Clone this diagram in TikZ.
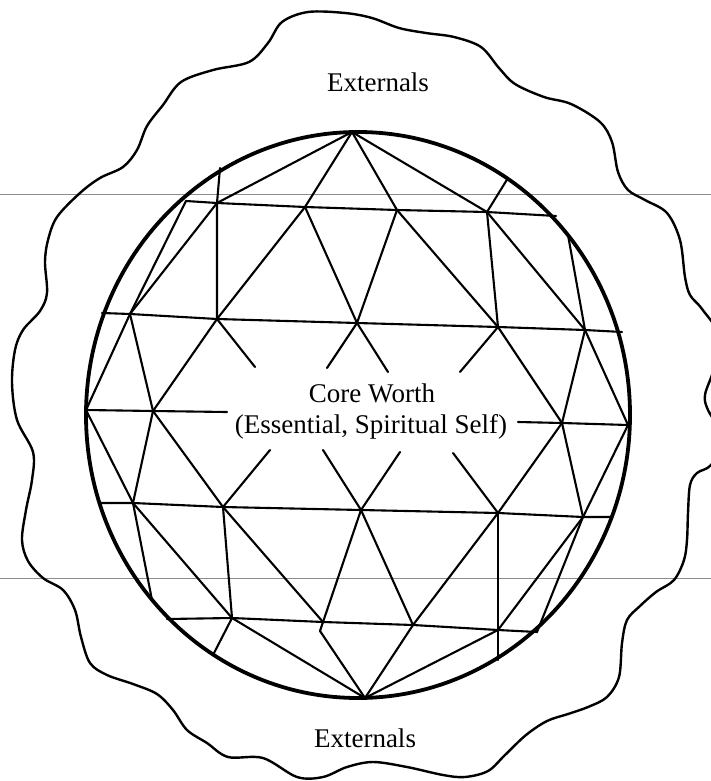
\documentclass[tikz,border=0pt]{standalone}
\usepackage{fontspec}
\setmainfont{Liberation Serif}
\begin{document}
\begin{tikzpicture}[x=1pt,y=-1pt,
  gridline/.style={line width=2.1pt, line cap=round, line join=round},
  rim/.style={line width=3.8pt},
  blob/.style={line width=2.4pt, line join=round},
  scanline/.style={line width=1pt, black!45},
  lbl/.style={font=\fontsize{27}{31}\selectfont, inner sep=0pt, anchor=base}]
\useasboundingbox (0,0) rectangle (711,781);
\fill[white] (0,0) rectangle (711,781);

% scan lines
\coordinate (g1l) at (0,194); \coordinate (g1r) at (711,194);
\coordinate (g2l) at (0,578); \coordinate (g2r) at (711,578);
\draw[scanline] (g1l) -- (g1r);
\draw[scanline] (g2l) -- (g2r);

% outer wavy boundary
\begin{scope}
\clip (0,0) rectangle (711,781);
\draw[blob] plot[smooth cycle, tension=0.55] coordinates {
(308,12) (345,13) (372,18) (399,28) (426,33) (454,37) (481,47) (499,68) (515,84)
(544,97) (571,104) (600,122) (612,142) (618,172) (628,190) (645,200) (667,213)
(680,240) (685,277) (690,295) (702,309) (722,340) (713,372) (705,395) (708,410)
(724,440) (711,465) (697,473) (690,485) (688,513) (687,540) (684,560) (674,580)
(656,592) (640,606) (627,620) (622,643) (619,677) (607,697) (588,707) (568,714)
(547,721) (526,735) (505,755) (488,771) (465,777) (443,775) (407,767) (373,762)
(347,767) (323,777) (297,777) (263,758) (228,757) (207,743) (187,730) (173,710)
(157,694) (133,684) (107,675) (90,663) (81,637) (75,610) (63,590) (43,578)
(28,561) (22,540) (26,510) (32,480) (33,452) (17,420) (12,383) (15,350) (23,330)
(40,311) (47,293) (45,262) (48,240) (57,217) (80,193) (100,178) (123,167)
(137,150) (147,126) (163,105) (181,82) (213,70) (249,62) (268,43) (282,22)};
\end{scope}

% vertices
\coordinate (T) at (352,132);
\coordinate (Bt) at (365,698);
\coordinate (L) at (86,410);
\coordinate (R) at (628,425);
\coordinate (E1L) at (186,201); \coordinate (B11) at (217,203); \coordinate (B12) at (305,207);
\coordinate (B13) at (397,210); \coordinate (B14) at (487,212); \coordinate (E1R) at (556,216);
\coordinate (Q1) at (220,168); \coordinate (Q2) at (508,178); \coordinate (Q3) at (568,235);
\coordinate (E2L) at (102,313); \coordinate (B21) at (130,314); \coordinate (B22) at (217,319);
\coordinate (B23) at (357,323); \coordinate (B24) at (498,327); \coordinate (B25) at (585,330);
\coordinate (E2R) at (622,332);
\coordinate (S22) at (255,367); \coordinate (S23a) at (327,368); \coordinate (S23b) at (388,372);
\coordinate (S24) at (460,372);
\coordinate (B31) at (153,411); \coordinate (E3a) at (227,412);
\coordinate (E3b) at (518,422); \coordinate (B3R) at (562,423);
\coordinate (E4L) at (100,503); \coordinate (B41) at (133,503); \coordinate (B42) at (223,507);
\coordinate (B43) at (361,510); \coordinate (B44) at (498,513); \coordinate (B45) at (583,517);
\coordinate (E4R) at (612,517);
\coordinate (S42) at (270,450); \coordinate (S43a) at (323,450); \coordinate (S43b) at (400,452);
\coordinate (S44) at (453,453);
\coordinate (Q4) at (152,600);
\coordinate (P1) at (167,619); \coordinate (P2) at (232,618); \coordinate (P3) at (323,622);
\coordinate (P4) at (413,625); \coordinate (P5) at (498,630); \coordinate (P6) at (537,632);
\coordinate (K3) at (320,631);
\coordinate (Q5) at (213,655); \coordinate (Q6) at (498,660);

% horizontal rows
\draw[gridline] (E1L) -- (B11) -- (B12) -- (B13) -- (B14) -- (E1R);
\draw[gridline] (E2L) -- (B21) -- (B22) -- (B23) -- (B24) -- (B25) -- (E2R);
\draw[gridline] (L) -- (B31) -- (E3a);
\draw[gridline] (E3b) -- (B3R) -- (R);
\draw[gridline] (E4L) -- (B41) -- (B42) -- (B43) -- (B44) -- (B45) -- (E4R);
\draw[gridline] (P1) -- (P2) -- (P3) -- (P4) -- (P5) -- (P6);

% top fan
\draw[gridline] (T) -- (B11);
\draw[gridline] (T) -- (B12);
\draw[gridline] (T) -- (B13);
\draw[gridline] (T) -- (B14);
\draw[gridline] (Q1) -- (B11) -- (B22);
\draw[gridline] (E1L) -- (B21) -- (L);
\draw[gridline] (B11) -- (B21);
\draw[gridline] (B12) -- (B22);
\draw[gridline] (B12) -- (B23);
\draw[gridline] (B13) -- (B23);
\draw[gridline] (B13) -- (B24);
\draw[gridline] (B14) -- (B24);
\draw[gridline] (B14) -- (B25);
\draw[gridline] (Q2) -- (B14);
\draw[gridline] (Q3) -- (B25);

% middle
\draw[gridline] (B21) -- (B31);
\draw[gridline] (B22) -- (B31);
\draw[gridline] (B22) -- (S22);
\draw[gridline] (B23) -- (S23a);
\draw[gridline] (B23) -- (S23b);
\draw[gridline] (B24) -- (S24);
\draw[gridline] (B24) -- (B3R);
\draw[gridline] (B25) -- (B3R);
\draw[gridline] (B25) -- (R);
\draw[gridline] (L) -- (B41);
\draw[gridline] (B31) -- (B41);
\draw[gridline] (B31) -- (B42);
\draw[gridline] (B42) -- (S42);
\draw[gridline] (B43) -- (S43a);
\draw[gridline] (B43) -- (S43b);
\draw[gridline] (B44) -- (S44);
\draw[gridline] (B44) -- (B3R);
\draw[gridline] (B3R) -- (B45);
\draw[gridline] (R) -- (B45);

% lower
\draw[gridline] (B41) -- (Q4);
\draw[gridline] (B41) -- (P2);
\draw[gridline] (B42) -- (P2);
\draw[gridline] (B42) -- (P3);
\draw[gridline] (B43) -- (P3);
\draw[gridline] (B43) -- (P4);
\draw[gridline] (B44) -- (P4);
\draw[gridline] (B44) -- (P5) -- (Q6);
\draw[gridline] (B45) -- (P5);
\draw[gridline] (B45) -- (P6);
\draw[gridline] (P2) -- (Q5);
\draw[gridline] (P2) -- (Bt);
\draw[gridline] (P3) -- (K3) -- (Bt);
\draw[gridline] (P4) -- (Bt);
\draw[gridline] (P5) -- (Bt);

% rim
\draw[rim] (358,415) ellipse [x radius=272, y radius=283];

% labels
\node[lbl] (ext1) at (378,92) {Externals};
\node[lbl] (core) at (372,402) {Core Worth};
\node[lbl] (ess) at (371,433) {(Essential, Spiritual Self)};
\node[lbl] (ext2) at (365,747) {Externals};
\end{tikzpicture}
\end{document}
